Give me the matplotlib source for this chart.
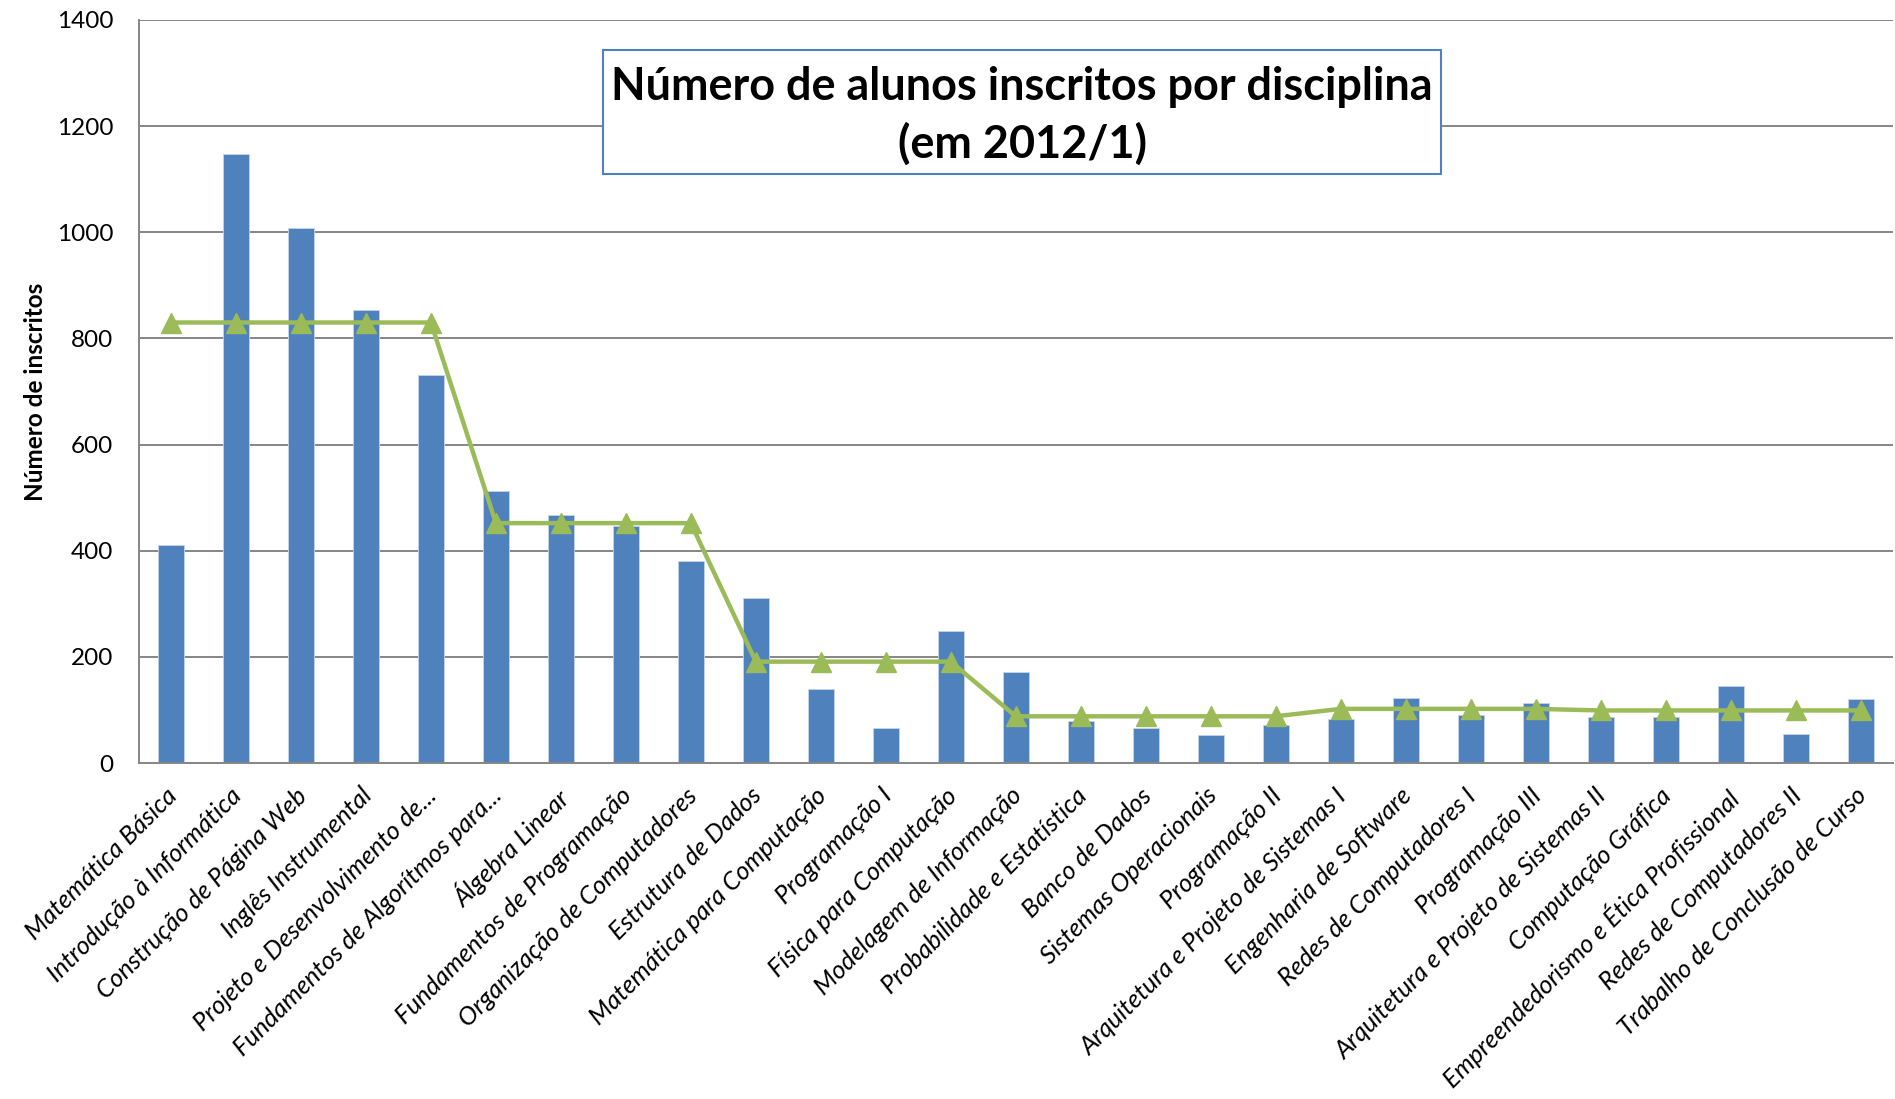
import matplotlib
matplotlib.use("Agg")
import matplotlib.pyplot as plt
import matplotlib.transforms as mtransforms
import numpy as np

categories = [
    "Matemática Básica", "Introdução à Informática", "Construção de Página Web",
    "Inglês Instrumental", "Projeto e Desenvolvimento de...",
    "Fundamentos de Algorítmos para...", "Álgebra Linear",
    "Fundamentos de Programação", "Organização de Computadores",
    "Estrutura de Dados", "Matemática para Computação", "Programação I",
    "Física para Computação", "Modelagem de Informação",
    "Probabilidade e Estatística", "Banco de Dados", "Sistemas Operacionais",
    "Programação II", "Arquitetura e Projeto de Sistemas I",
    "Engenharia de Software", "Redes de Computadores I", "Programação III",
    "Arquitetura e Projeto de Sistemas II", "Computação Gráfica",
    "Empreendedorismo e Ética Profissional", "Redes de Computadores II",
    "Trabalho de Conclusão de Curso",
]
inscritos = [410, 1148, 1009, 854, 731, 513, 468, 447, 381, 310, 139, 66, 248,
             171, 80, 66, 52, 72, 82, 123, 91, 113, 86, 86, 146, 54, 121]
media = [830, 830, 830, 830, 830, 452, 452, 452, 452, 191, 191, 191, 191,
         88, 88, 88, 88, 88, 102, 102, 102, 102, 99, 99, 99, 99, 99]
yticks = [0, 200, 400, 600, 800, 1000, 1200, 1400]

FONT = "Lato"
W, H = 1895, 1099
fig = plt.figure(figsize=(W / 100, H / 100), dpi=100)
ax_left, ax_right = 138.5, 1893
ax = fig.add_axes([ax_left / W, 1 - 763 / H, (ax_right - ax_left) / W, (763 - 20) / H])

x = np.arange(len(categories))
ax.bar(x, inscritos, width=0.4, color="#4F81BD", zorder=2,
       edgecolor="#C6D5EA", linewidth=0.6)
ax.plot(x, media, color="#9BBB59", lw=3.2, marker="^", markersize=15,
        zorder=3)

ax.set_xlim(-0.5, len(categories) - 0.5)
ax.set_ylim(0, 1400)
ax.set_yticks(yticks)
ax.set_yticklabels([str(v) for v in yticks], fontsize=17.5, fontfamily=FONT)
ax.yaxis.grid(True, color="#868686", linewidth=1.4, zorder=0)
ax.set_axisbelow(True)
ax.tick_params(axis="both", length=0)
ax.tick_params(axis="y", pad=18)
ax.set_xticks(x)
ax.set_xticklabels(categories, rotation=45, ha="right", va="top",
                   rotation_mode="anchor", fontsize=18.3, fontfamily=FONT,
                   fontstyle="italic")
ax.tick_params(axis="x", pad=15)
shift = mtransforms.ScaledTranslation(-6 / 100, 0, fig.dpi_scale_trans)
for lbl in ax.get_xticklabels():
    lbl.set_transform(lbl.get_transform() + shift)
for s in ["top", "right"]:
    ax.spines[s].set_visible(False)
for s in ["left", "bottom"]:
    ax.spines[s].set_color("#868686")
    ax.spines[s].set_linewidth(1.4)

ax.set_ylabel("Número de inscritos", fontsize=17.5, fontweight="bold",
              fontfamily=FONT)
ax.yaxis.set_label_coords((47 - ax_left) / (ax_right - ax_left), 0.5)

# title box
fig.patches.append(plt.Rectangle((603 / W, 1 - 174 / H), (1441 - 603) / W,
                                 (174 - 49.5) / H, transform=fig.transFigure,
                                 facecolor="white", edgecolor="#4F81BD",
                                 linewidth=1.5, zorder=5))
fig.text((603 + 1441) / 2 / W, 1 - 116 / H,
         "Número de alunos inscritos por disciplina\n(em 2012/1)",
         ha="center", va="center", fontsize=32.4, fontweight="bold",
         fontfamily=FONT, linespacing=1.42, zorder=6)

fig.savefig("out.png", dpi=100)
